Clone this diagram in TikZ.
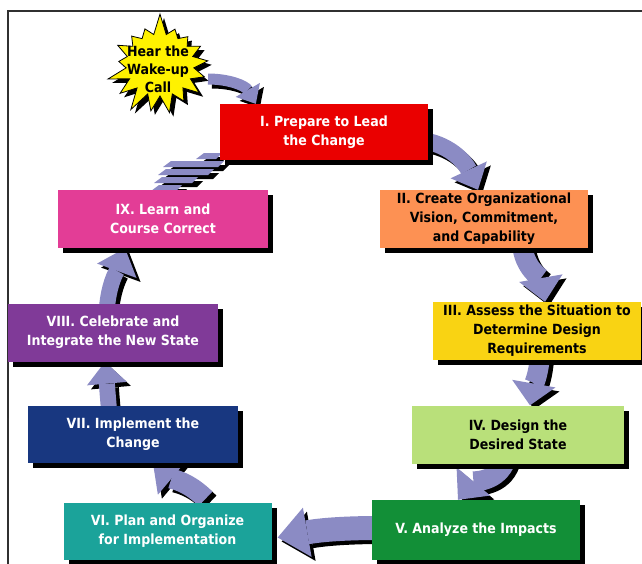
\documentclass[tikz,border=0pt]{standalone}
\usepackage{fontspec}
\setmainfont{DejaVu Sans Condensed}
\usetikzlibrary{shapes.symbols,arrows.meta,shadows,backgrounds,calc}

\definecolor{lav}{HTML}{8B8BC4}
\definecolor{cRed}{HTML}{EA0000}
\definecolor{cOrange}{HTML}{FD9153}
\definecolor{cYellow}{HTML}{F9D313}
\definecolor{cLime}{HTML}{B9E07A}
\definecolor{cGreen}{HTML}{128F37}
\definecolor{cTeal}{HTML}{1BA39A}
\definecolor{cNavy}{HTML}{183780}
\definecolor{cPurple}{HTML}{803A98}
\definecolor{cPink}{HTML}{E33D96}
\definecolor{frameGray}{HTML}{303030}

% curved block arrow with a black drop shadow:
% #1 shaft width, #2 head width, #3 head length, #4 path
\newcommand{\flowarrow}[4]{%
  \draw[black, line width=#1, line cap=butt,
        -{Triangle[length=#3 0 0, width=#2 0 0, line width=0pt 0 0]},
        transform canvas={shift={(4,-4)}}] #4;
  \draw[lav, line width=#1, line cap=butt,
        -{Triangle[length=#3 0 0, width=#2 0 0, line width=0pt 0 0]}] #4;
}

\begin{document}
\begin{tikzpicture}[x=1pt,y=1pt,
  stage/.style={rectangle, minimum width=208pt, minimum height=58pt,
    inner sep=2pt, align=center,
    font=\bfseries\fontsize{14}{19}\selectfont,
    drop shadow={shadow xshift=5pt, shadow yshift=-5pt, fill=black, opacity=1}},
  burst/.style={starburst, starburst points=17, starburst point height=22pt,
    random starburst=7, minimum width=112pt, minimum height=106pt,
    fill=yellow, draw=black, line width=0.8pt,
    drop shadow={shadow xshift=4pt, shadow yshift=-4pt, fill=black, opacity=1}},
  bursttext/.style={align=center, font=\bfseries\fontsize{14}{18}\selectfont}]
\useasboundingbox (0,0) rectangle (642,-563);

% stages
\node[burst] (star) at (160,-65) {};
\node[bursttext] (startext) at (158,-69) {Hear the\\Wake-up\\Call};
\node[stage, fill=cRed, text=white, minimum height=56pt] (I) at (324,-132)
  {I. Prepare to Lead\\the Change};
\node[stage, fill=cOrange, text=black] (II) at (484,-219)
  {II. Create Organizational\\Vision, Commitment,\\and Capability};
\node[stage, fill=cYellow, text=black] (III) at (537,-331)
  {III. Assess the Situation to\\Determine Design\\Requirements};
\node[stage, fill=cLime, text=black, minimum width=212pt] (IV) at (518,-434.5)
  {IV. Design the\\Desired State};
\node[stage, fill=cGreen, text=white, minimum height=60pt] (V) at (476,-530)
  {V. Analyze the Impacts};
\node[stage, fill=cTeal, text=white, minimum height=57pt] (VI) at (167.5,-531.5)
  {VI. Plan and Organize\\for Implementation};
\node[stage, fill=cNavy, text=white, minimum width=210pt, minimum height=57pt] (VII) at (133,-434.5)
  {VII. Implement the\\Change};
\node[stage, fill=cPurple, text=white, minimum width=210pt] (VIII) at (113,-332.5)
  {VIII. Celebrate and\\Integrate the New State};
\node[stage, fill=cPink, text=white, minimum width=210pt] (IX) at (163,-219)
  {IX. Learn and\\Course Correct};

\begin{pgfonlayer}{background}
  % outer frame
  \draw[frameGray, line width=2.5pt] (8,-566) -- (8,-11) -- (646,-11);

  % cycle arrows
  \flowarrow{11pt}{28pt}{16pt}{($(star.center)+(48,-14)$) to[out=0,in=120] ($(I.north west)+(36,0)$)}
  \flowarrow{17pt}{40pt}{22pt}{($(I.east)+(-10,-8)$) to[out=-5,in=115] ($(II.north)+(-6,0)$)}
  \flowarrow{20pt}{44pt}{24pt}{($(II.south)+(38,4)$) to[out=-85,in=100] ($(III.north)+(8,0)$)}
  \flowarrow{20pt}{44pt}{22pt}{($(III.south)+(3,4)$) to[out=-95,in=80] ($(IV.north)+(12,0)$)}
  \flowarrow{20pt}{44pt}{24pt}{($(IV.south)+(-12,4)$) to[out=-110,in=50] ($(V.north)+(-18,0)$)}
  \flowarrow{24pt}{50pt}{30pt}{($(V.west)+(6,2)$) to[out=180,in=10] ($(VI.east)+(6,-6)$)}
  \flowarrow{20pt}{42pt}{24pt}{($(VI.north)+(38,4)$) to[out=135,in=-40] ($(VII.south)+(20,0)$)}
  \flowarrow{16pt}{40pt}{22pt}{($(VII.north)+(-24,-4)$) to[out=95,in=-85] ($(VIII.south)+(-8,0)$)}
  \flowarrow{16pt}{42pt}{24pt}{($(VIII.north)+(-6,-4)$) to[out=85,in=-110] ($(IX.south)+(-38,0)$)}

  % broken striped arrow from IX back to I
  \foreach \xa/\xb/\yy in {196/222/156, 163/224/164, 158/214/172, 154/198/180, 151/182/188} {
    \fill[black] (\xa+5,-\yy-7) -- (\xa+13,-\yy-1) -- (\xb+5,-\yy-1) -- (\xb-1,-\yy-7) -- cycle;
    \fill[lav] (\xa,-\yy-3) -- (\xa+8,-\yy+3) -- (\xb,-\yy+3) -- (\xb-6,-\yy-3) -- cycle;
  }
\end{pgfonlayer}
\end{tikzpicture}
\end{document}
